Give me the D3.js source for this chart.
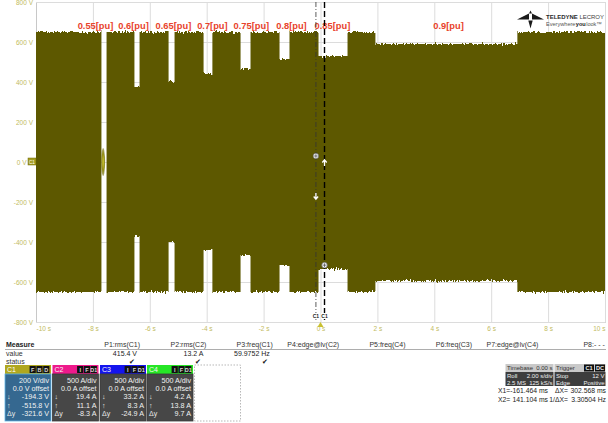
<!DOCTYPE html>
<html>
<head>
<meta charset="utf-8">
<script src="https://cdn.jsdelivr.net/npm/d3@7/dist/d3.min.js"></script>
<style>
  html, body { margin: 0; padding: 0; background: #fff; }
  svg { display: block; }
  text { font-family: 'Liberation Sans Narrow', 'Arial Narrow', 'Liberation Sans', Arial, sans-serif; }
</style>
</head>
<body>
<div id="chart"></div>
<script>
// ---- Waveform envelope (C1, roll mode) : step segments ----
const segStart = [-10, -7.70, -7.52, -6.54, -6.36, -5.34, -5.13, -4.11, -3.80, -2.81, -2.46, -1.44, -1.09, -0.07, 0.95, 1.93, 6.92];
const segUpper = [650, 0, 650, 375, 650, 400, 650, 440, 650, 465, 650, 515, 650, 530, 650, 590, 650];
const segLower = [-650, 0, -650, -370, -650, -400, -650, -440, -650, -465, -650, -520, -650, -535, -650, -595, -650];
const timeEnd = 10;

// sag annotations
const sagLabels = ["0.55[pu]", "0.6[pu]", "0.65[pu]", "0.7[pu]", "0.75[pu]", "0.8[pu]", "0.85[pu]", "0.9[pu]"];
const sagTimes = [-7.91, -6.57, -5.17, -3.80, -2.43, -1.02, 0.42, 4.50];

// axes
const timeTicks = [-10, -8, -6, -4, -2, 0, 2, 4, 6, 8, 10];
const voltTicks = [800, 600, 400, 200, 0, -200, -400, -600, -800];

// cursors (seconds) and their channel readouts
const cursorX1 = -0.161464;
const cursorX2 = 0.141104;
const markX1 = [30, -175];
const markX2 = [0, -515.8];

// measurement table
const measHeaders = ["P1:rms(C1)", "P2:rms(C2)", "P3:freq(C1)", "P4:edge@lv(C2)", "P5:freq(C4)", "P6:freq(C3)", "P7:edge@lv(C4)", "P8:- - -"];
const measValues = ["415.4 V", "13.2 A", "59.9752 Hz", "", "", "", "", ""];
const measStatus = [true, true, true, false, false, false, false, false];

// channel descriptors
const chNames = ["C1", "C2", "C3", "C4"];
const chScale = ["200 V/div", "500 A/div", "500 A/div", "500 A/div"];
const chOffset = ["0.0 V offset", "0.0 A offset", "0.0 A offset", "0.0 A offset"];
const chDown = ["-194.3 V", "19.4 A", "33.2 A", "4.2 A"];
const chUp = ["-515.8 V", "11.1 A", "8.3 A", "13.8 A"];
const chDelta = ["-321.6 V", "-8.3 A", "-24.9 A", "9.7 A"];
const chBadges = [["F", "B", "D"], ["I", "F", "D1"], ["I", "F", "D1"], ["I", "F", "D1"]];

// timebase / trigger / cursor readout
const timebase = ["Timebase", "0.00 s", "Roll", "2.00 s/div", "2.5 MS", "125 kS/s"];
const trigger = ["Trigger", "Stop", "12 V", "Edge", "Positive"];
const cursorText = [["X1=", "-161.464 ms", "ΔX=", "302.568 ms"], ["X2=", "141.104 ms", "1/ΔX=", "3.30504 Hz"]];

const W = 608, H = 423;
const plot = { left: 36, right: 605, top: 2, bottom: 322 };
const traceColor = "#5d5900";
const axisText = "#c2bb62";

const svg = d3.select("#chart").append("svg").attr("width", W).attr("height", H);
svg.append("rect").attr("width", W).attr("height", H).attr("fill", "#fff");

const x = d3.scaleLinear().domain([-10, 10]).range([plot.left, plot.right]);
const y = d3.scaleLinear().domain([-800, 800]).range([plot.bottom, plot.top]);

const defs = svg.append("defs");
// ragged noise edge of the persistence trace
const f = defs.append("filter").attr("id", "rough")
  .attr("x", "-1%").attr("y", "-5%").attr("width", "102%").attr("height", "110%");
f.append("feTurbulence").attr("type", "fractalNoise").attr("baseFrequency", "0.9 0.02")
  .attr("numOctaves", 2).attr("seed", 7).attr("result", "n");
f.append("feColorMatrix").attr("in", "n").attr("type", "matrix")
  .attr("values", "0 0 0 0 0.5  0 1 0 0 0  0 0 0 0 0  0 0 0 0 1").attr("result", "m");
f.append("feDisplacementMap").attr("in", "SourceGraphic").attr("in2", "m")
  .attr("scale", 6).attr("xChannelSelector", "R").attr("yChannelSelector", "G");

const glow = defs.append("radialGradient").attr("id", "blob");
glow.append("stop").attr("offset", "0%").attr("stop-color", "#d0ca3a");
glow.append("stop").attr("offset", "60%").attr("stop-color", "#948e18");
glow.append("stop").attr("offset", "100%").attr("stop-color", "#6a6600").attr("stop-opacity", 0.5);

// ---- grid + axes ----
const gx = svg.append("g").attr("transform", `translate(0,${plot.bottom})`)
  .call(d3.axisBottom(x).tickValues(timeTicks).tickSize(-(plot.bottom - plot.top)).tickPadding(4)
    .tickFormat(d => d + " s"));
gx.select(".domain").attr("stroke", "#c8c8c8");
gx.selectAll(".tick line").attr("stroke", "#dcdcdc");
gx.selectAll(".tick text").attr("fill", axisText).attr("font-size", 6.5)
  .attr("text-anchor", (d, i) => i === 0 ? "start" : (i === timeTicks.length - 1 ? "end" : "middle"));

const gy = svg.append("g").attr("transform", `translate(${plot.left},0)`)
  .call(d3.axisLeft(y).tickValues(voltTicks).tickSize(-(plot.right - plot.left)).tickPadding(3)
    .tickFormat(d => d + " V"));
gy.select(".domain").attr("stroke", "#c8c8c8");
gy.selectAll(".tick line").attr("stroke", "#dcdcdc");
gy.selectAll(".tick text").attr("fill", axisText).attr("font-size", 6.5)
  .attr("x", d => d === 0 ? -9.5 : -3);

// ---- waveform envelope ----
const pts = segStart.map((t, i) => ({ t, hi: segUpper[i], lo: segLower[i] }));
pts.push({ t: timeEnd, hi: segUpper[segUpper.length - 1], lo: segLower[segLower.length - 1] });
const area = d3.area().curve(d3.curveStepAfter)
  .x(d => x(d.t)).y0(d => y(d.lo)).y1(d => y(d.hi));
svg.append("path").datum(pts).attr("d", area).attr("fill", traceColor).attr("filter", "url(#rough)");

// brief near-zero burst in the interruption
svg.append("ellipse").attr("cx", x((segStart[1] + segStart[2]) / 2 - 0.03)).attr("cy", y(0))
  .attr("rx", 2).attr("ry", y(-70) - y(0)).attr("fill", "url(#blob)");

// sag labels
svg.append("g").selectAll("text").data(sagLabels).join("text")
  .attr("x", (d, i) => x(sagTimes[i])).attr("y", 29)
  .attr("text-anchor", "middle").attr("font-size", 9.3).attr("font-weight", "bold")
  .attr("fill", "#e8432c")
  .style("font-family", "'Liberation Sans', Arial, sans-serif")
  .text(d => d);

// channel ground marker
svg.append("rect").attr("x", 28).attr("y", y(0) - 4).attr("width", 8).attr("height", 7)
  .attr("fill", "#a49c22").attr("stroke", "#6d6800").attr("stroke-width", 0.5);
svg.append("text").attr("x", 32).attr("y", y(0) + 1.6).attr("text-anchor", "middle")
  .attr("font-size", 4.5).attr("fill", "#fff").text("C1");

// trigger position marker at 0 s
svg.append("path").attr("d", `M${x(0) - 3},${plot.bottom + 5}L${x(0) + 3},${plot.bottom + 5}L${x(0)},${plot.bottom}Z`)
  .attr("fill", "#c8c030");

// ---- cursors ----
svg.append("line").attr("x1", x(cursorX1)).attr("x2", x(cursorX1))
  .attr("y1", plot.top).attr("y2", plot.bottom - 2)
  .attr("stroke", "#333").attr("stroke-width", 0.8).attr("stroke-dasharray", "5,2,1,2");
svg.append("line").attr("x1", x(cursorX2)).attr("x2", x(cursorX2))
  .attr("y1", plot.top).attr("y2", plot.bottom - 2)
  .attr("stroke", "#000").attr("stroke-width", 1.4).attr("stroke-dasharray", "6,3");

[cursorX1, cursorX2].forEach(c => {
  svg.append("rect").attr("x", x(c) - 3.5).attr("y", plot.bottom - 9).attr("width", 7).attr("height", 6)
    .attr("fill", "#fff");
  svg.append("text").attr("x", x(c)).attr("y", plot.bottom - 4.2).attr("text-anchor", "middle")
    .attr("font-size", 5).attr("font-weight", "bold").attr("fill", "#222").text("C1");
});

function circleMark(cx, cy) {
  svg.append("circle").attr("cx", cx).attr("cy", cy).attr("r", 2.8)
    .attr("fill", "#f4f4f4").attr("stroke", "#555").attr("stroke-width", 0.6);
  svg.append("path").attr("d", `M${cx - 1.8},${cy}H${cx + 1.8}M${cx},${cy - 1.8}V${cy + 1.8}`)
    .attr("stroke", "#444").attr("stroke-width", 0.7);
}
function arrowMark(cx, cy, dir) {
  const s = dir === "down" ? 1 : -1;
  svg.append("path").attr("d", `M${cx},${cy - 4 * s}V${cy + 1 * s}M${cx - 2.2},${cy - 0.5 * s}L${cx},${cy + 2.2 * s}L${cx + 2.2},${cy - 0.5 * s}`)
    .attr("stroke", "#fff").attr("stroke-width", 1.3).attr("fill", "none");
}
circleMark(x(cursorX1), y(markX1[0]));
arrowMark(x(cursorX1), y(markX1[1]), "down");
arrowMark(x(cursorX2), y(markX2[0]), "up");
circleMark(x(cursorX2), y(markX2[1]));

// ---- brand mark ----
const logo = svg.append("g").attr("fill", "#1a1a1a");
logo.append("path").attr("d", "M517,19.5L529,13.5L529,19.5Z");
logo.append("path").attr("d", "M532,13.5L544,19.5L532,19.5Z");
logo.append("path").attr("d", "M529,13.5L532,13.5L530.5,10.5Z");
logo.append("path").attr("d", "M528.3,20.5L532.7,20.5L530.5,28.5Z");

// lay out a run of word pieces so that they fill a given width without touching
function wordRun(parts, x0, yy, width, size, gap) {
  const els = parts.map(([s, wt, col]) => svg.append("text").attr("y", yy).attr("font-weight", wt)
    .attr("fill", col).attr("font-size", size).text(s));
  const widthAt = () => els.reduce((a, e) => a + e.node().getComputedTextLength(), 0) + gap * (els.length - 1);
  const fs = size * Math.min(1, (width - gap * (els.length - 1)) / (widthAt() - gap * (els.length - 1)));
  els.forEach(e => e.attr("font-size", fs));
  let cx = x0;
  els.forEach(e => { e.attr("x", cx); cx += e.node().getComputedTextLength() + gap; });
}
wordRun([["TELEDYNE", "bold", "#2a2a2a"], ["LECROY", "normal", "#444"]], 546, 18.5, 58, 7.4, 1.6);
wordRun([["Everywhere", "normal", "#555"], ["you", "bold", "#222"], ["look™", "normal", "#555"]], 546, 26, 56, 6.6, 0.4);

// ---- measurement table ----
const tbl = svg.append("g").attr("font-size", 7).attr("fill", "#222");
tbl.append("text").attr("x", 6).attr("y", 347).attr("font-weight", "bold").attr("fill", "#222").text("Measure");
tbl.append("line").attr("x1", 5).attr("x2", 606).attr("y1", 349.5).attr("y2", 349.5).attr("stroke", "#8a8a8a").attr("stroke-width", 0.7);
tbl.append("text").attr("x", 6).attr("y", 356).attr("fill", "#333").text("value");
tbl.append("text").attr("x", 6).attr("y", 364).attr("fill", "#333").text("status");
const colRight = i => 140 + i * 66.4;
tbl.selectAll(".mh").data(measHeaders).join("text").attr("class", "mh")
  .attr("x", (d, i) => colRight(i)).attr("y", 347).attr("text-anchor", "end").attr("fill", "#333").text(d => d);
tbl.selectAll(".mv").data(measValues).join("text").attr("class", "mv")
  .attr("x", (d, i) => colRight(i) - 3).attr("y", 356).attr("text-anchor", "end").attr("fill", "#222").text(d => d);
tbl.selectAll(".ms").data(measStatus).join("text").attr("class", "ms")
  .attr("x", (d, i) => colRight(i) - 5).attr("y", 364).attr("text-anchor", "end")
  .attr("font-size", 7).attr("fill", "#111").text(d => d ? "✔" : "");

// ---- channel descriptor boxes ----
const chX = [5, 52.5, 100, 147];
const chW = 46, hdrTop = 365, hdrH = 9, boxBottom = 421;
const headFill = ["#b0a71e", "#ee1a8c", "#1414ee", "#26e626"];
chNames.forEach((nm, i) => {
  const g = svg.append("g").attr("transform", `translate(${chX[i]},0)`);
  g.append("rect").attr("x", 0).attr("y", hdrTop).attr("width", chW).attr("height", hdrH).attr("fill", headFill[i]);
  g.append("text").attr("x", 2).attr("y", hdrTop + 7).attr("font-size", 7).attr("fill", i === 0 ? "#fff" : "#f6f6f6").text(nm);
  const badges = chBadges[i];
  const bw = 6.2;
  badges.forEach((b, k) => {
    const bx = chW - 1 - (badges.length - k) * (bw + 0.6);
    g.append("rect").attr("x", bx).attr("y", hdrTop + 1).attr("width", bw).attr("height", hdrH - 2).attr("fill", "#111");
    g.append("text").attr("x", bx + bw / 2).attr("y", hdrTop + 6.8).attr("text-anchor", "middle")
      .attr("font-size", 5.5).attr("font-weight", "bold").attr("fill", "#ddd").text(b);
  });
  const body = i === 0 ? "#356890" : "#474747";
  g.append("rect").attr("x", 0).attr("y", hdrTop + hdrH).attr("width", chW).attr("height", boxBottom - hdrTop - hdrH)
    .attr("fill", body).attr("stroke", i === 0 ? "#5fb4e6" : "#3a3a3a").attr("stroke-width", 0.8);
  const rows = [chScale[i], chOffset[i], chDown[i], chUp[i], chDelta[i]];
  const syms = ["", "", "↓", "↑", "Δy"];
  rows.forEach((r, k) => {
    const yy = 383 + k * 8.2;
    g.append("text").attr("x", chW - 2).attr("y", yy).attr("text-anchor", "end").attr("font-size", 7.2)
      .attr("fill", "#f2f2f2").text(r);
    if (syms[k]) g.append("text").attr("x", 2).attr("y", yy).attr("font-size", 7).attr("fill", "#e8e8e8").text(syms[k]);
  });
});
svg.append("rect").attr("x", 194.5).attr("y", 365).attr("width", 46).attr("height", 56)
  .attr("fill", "none").attr("stroke", "#9a9a9a").attr("stroke-width", 0.7).attr("stroke-dasharray", "1.5,1.5");

// ---- timebase / trigger ----
const tb = svg.append("g").attr("font-size", 6);
tb.append("rect").attr("x", 505.5).attr("y", 364).attr("width", 48).attr("height", 8).attr("fill", "#c9c9c9");
tb.append("rect").attr("x", 505.5).attr("y", 372).attr("width", 48).attr("height", 14).attr("fill", "#3d3d3d");
tb.append("text").attr("x", 507).attr("y", 370.2).attr("fill", "#333").text(timebase[0]);
tb.append("text").attr("x", 552.5).attr("y", 370.2).attr("text-anchor", "end").attr("fill", "#333").text(timebase[1]);
tb.append("text").attr("x", 507).attr("y", 378).attr("fill", "#eee").text(timebase[2]);
tb.append("text").attr("x", 552.5).attr("y", 378).attr("text-anchor", "end").attr("fill", "#eee").text(timebase[3]);
tb.append("text").attr("x", 507).attr("y", 384.8).attr("fill", "#eee").text(timebase[4]);
tb.append("text").attr("x", 552.5).attr("y", 384.8).attr("text-anchor", "end").attr("fill", "#eee").text(timebase[5]);

tb.append("rect").attr("x", 554.5).attr("y", 364).attr("width", 51).attr("height", 8).attr("fill", "#c9c9c9");
tb.append("rect").attr("x", 554.5).attr("y", 372).attr("width", 51).attr("height", 14).attr("fill", "#3d3d3d");
tb.append("text").attr("x", 556).attr("y", 370.2).attr("fill", "#333").text(trigger[0]);
[["C1", 584], ["DC", 595]].forEach(([b, bx]) => {
  tb.append("rect").attr("x", bx).attr("y", 364.5).attr("width", 10).attr("height", 7).attr("fill", "#111");
  tb.append("text").attr("x", bx + 5).attr("y", 370.2).attr("text-anchor", "middle").attr("font-size", 5.6)
    .attr("font-weight", "bold").attr("fill", "#eee").text(b);
});
tb.append("text").attr("x", 556).attr("y", 378).attr("fill", "#eee").text(trigger[1]);
tb.append("text").attr("x", 604.5).attr("y", 378).attr("text-anchor", "end").attr("fill", "#eee").text(trigger[2]);
tb.append("text").attr("x", 556).attr("y", 384.8).attr("fill", "#eee").text(trigger[3]);
tb.append("text").attr("x", 604.5).attr("y", 384.8).attr("text-anchor", "end").attr("fill", "#eee").text(trigger[4]);

cursorText.forEach((row, k) => {
  const yy = 393 + k * 8.8;
  const t = tb.append("g").attr("font-size", 6.8).attr("fill", "#222");
  t.append("text").attr("x", 498).attr("y", yy).text(row[0]);
  t.append("text").attr("x", 548).attr("y", yy).attr("text-anchor", "end").text(row[1]);
  t.append("text").attr("x", 568).attr("y", yy).attr("text-anchor", "end").text(row[2]);
  t.append("text").attr("x", 606).attr("y", yy).attr("text-anchor", "end").text(row[3]);
});
</script>
</body>
</html>
